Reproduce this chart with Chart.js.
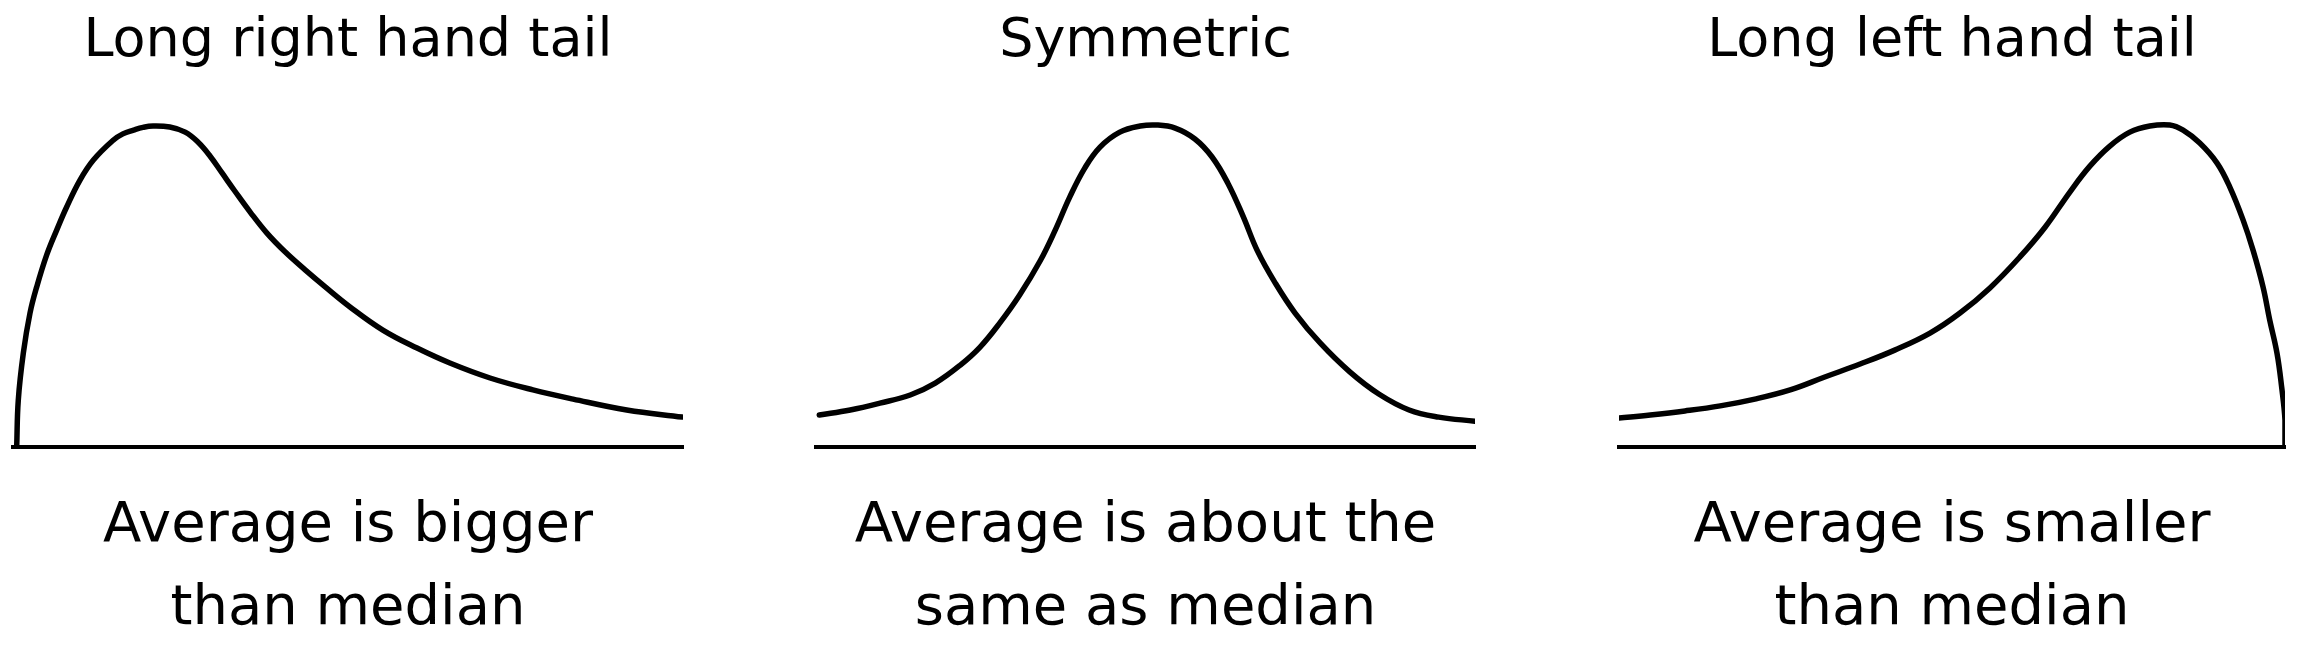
<!DOCTYPE html>
<html>
<head>
<meta charset="utf-8">
<script src="https://cdn.jsdelivr.net/npm/chart.js@4.4.1/dist/chart.umd.min.js"></script>
<style>
  html, body { margin: 0; padding: 0; background: #fff; }
  body { width: 2308px; height: 648px; position: relative; overflow: hidden; }
  .panel { position: absolute; top: 0; height: 648px; }
</style>
</head>
<body>
<div class="panel" style="left:0px;width:691px"><canvas id="right"></canvas></div>
<div class="panel" style="left:777px;width:700px"><canvas id="sym"></canvas></div>
<div class="panel" style="left:1609px;width:690px"><canvas id="left"></canvas></div>
<script>
// x = position along the baseline (0-100), y = curve height (0-100)
const rightTailX = [0.55, 0.79, 1.54, 2.54, 3.54, 5.03, 6.52, 8.01, 10.0, 12.0, 15.0, 16.4, 18.0, 19.4, 20.9, 23.4, 25.7, 27.6, 29.4, 31.2, 33.1, 35.4, 37.9, 40.6, 43.6, 46.6, 50.3, 55.2, 60.3, 65.2, 71.2, 77.6, 83.6, 91.6, 99.9];
const rightTailY = [0, 13.8, 27.6, 39.4, 47.1, 56.5, 63.8, 70.6, 78.5, 84.4, 90.3, 92.1, 93.2, 94.0, 94.4, 94.1, 92.6, 89.7, 85.6, 80.6, 75.3, 69.1, 62.9, 57.4, 52.1, 47.1, 41.2, 34.4, 29.1, 24.7, 20.3, 16.8, 14.1, 10.9, 8.8];

const symX = [0.5, 5.2, 9.7, 14.3, 18.1, 21.9, 24.9, 27.9, 30.9, 34.0, 36.3, 38.5, 40.8, 43.1, 46.1, 49.2, 51.7, 54.5, 57.5, 60.1, 62.5, 64.8, 67.0, 69.7, 72.7, 76.5, 81.0, 85.4, 90.0, 94.5, 100];
const symY = [9.4, 10.9, 12.9, 15.3, 18.8, 24.1, 29.4, 36.5, 44.7, 54.7, 63.8, 73.5, 82.1, 88.2, 92.6, 94.4, 94.7, 93.8, 90.6, 85.3, 77.6, 67.9, 57.6, 48.2, 39.4, 30.6, 22.1, 15.6, 10.9, 8.8, 7.6];

const leftTailX = [0, 4.7, 9.9, 15.2, 20.4, 25.7, 30.9, 36.2, 41.4, 46.7, 51.2, 55.7, 60.2, 64.0, 67.7, 70.7, 73.7, 76.7, 79.7, 82.7, 84.7, 87.2, 89.8, 91.7, 93.7, 95.2, 96.7, 97.7, 98.8, 99.5, 100, 100];
const leftTailY = [8.5, 9.4, 10.6, 12.1, 14.1, 16.8, 20.6, 24.4, 28.5, 33.5, 39.4, 46.8, 55.9, 64.7, 75.0, 82.6, 88.5, 92.6, 94.4, 94.7, 93.2, 89.4, 83.5, 76.5, 66.8, 57.9, 47.1, 37.4, 27.6, 17.6, 7.9, 0];

const titles = ["Long right hand tail", "Symmetric", "Long left hand tail"];
const captions = [
  ["Average is bigger", "than median"],
  ["Average is about the", "same as median"],
  ["Average is smaller", "than median"]
];

const fontFamily = "'DejaVu Sans', sans-serif";

function toPoints(xs, ys) {
  return xs.map((x, i) => ({ x: x, y: ys[i] }));
}

function makeChart(id, xs, ys, title, caption, padLeft, padRight) {
  const ctx = document.getElementById(id);
  return new Chart(ctx, {
    type: "line",
    data: {
      datasets: [{
        data: toPoints(xs, ys),
        borderColor: "#000",
        borderWidth: 5.5,
        pointRadius: 0,
        fill: false,
        tension: 0.4,
        borderCapStyle: "round",
        borderJoinStyle: "round"
      }]
    },
    options: {
      responsive: true,
      maintainAspectRatio: false,
      animation: false,
      events: [],
      layout: { padding: { left: padLeft, right: padRight, top: 0, bottom: 0 } },
      plugins: {
        legend: { display: false },
        tooltip: { enabled: false },
        title: {
          display: true,
          text: title,
          color: "#000",
          font: { family: fontFamily, size: 54, weight: "normal", lineHeight: 1.2 },
          padding: { top: 10, bottom: 32.2 }
        }
      },
      scales: {
        x: {
          type: "linear",
          min: 0,
          max: 100,
          grid: { display: false, drawTicks: false },
          border: { display: true, color: "#000", width: 4 },
          ticks: { display: false },
          title: {
            display: true,
            text: caption,
            color: "#000",
            font: { family: fontFamily, size: 56, weight: "normal", lineHeight: 1.482 },
            padding: { top: 38, bottom: -3 }
          }
        },
        y: {
          display: false,
          min: 0,
          max: 100
        }
      }
    }
  });
}

makeChart("right", rightTailX, rightTailY, titles[0], captions[0], 13, 8);
makeChart("sym", symX, symY, titles[1], captions[1], 39, 2);
makeChart("left", leftTailX, leftTailY, titles[2], captions[2], 10, 14);
</script>
</body>
</html>
